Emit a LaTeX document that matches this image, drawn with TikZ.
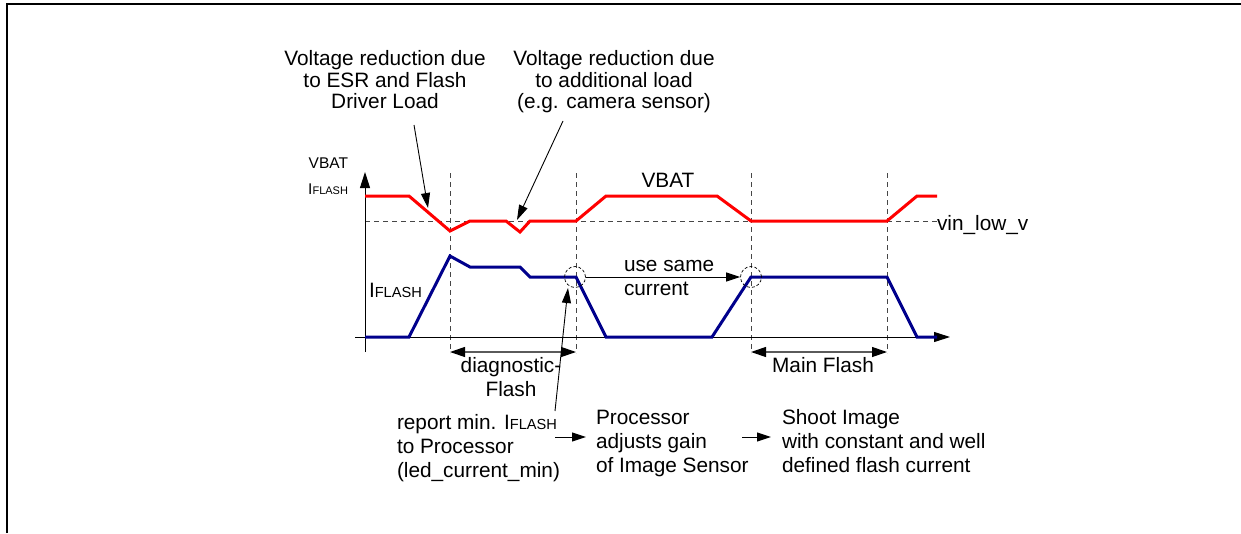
\documentclass[tikz,border=0pt]{standalone}
\usepackage{fontspec}
\setmainfont{Liberation Sans}
\usetikzlibrary{arrows.meta}
\definecolor{vred}{RGB}{255,0,0}
\definecolor{vblue}{RGB}{0,0,140}
\definecolor{guidegray}{RGB}{70,70,70}
\definecolor{dimgray}{RGB}{90,90,90}
\newcommand{\IFL}{I{\fontsize{14.6}{14.6}\selectfont FLASH}}
\newcommand{\IFLsmall}{I{\fontsize{11}{11}\selectfont FLASH}}
\begin{document}
\begin{tikzpicture}[x=1pt,y=-1pt,
 txt/.style={inner sep=0pt, outer sep=0pt, font=\fontsize{20.8}{24}\selectfont},
 smalltxt/.style={inner sep=0pt, outer sep=0pt, font=\fontsize{15.5}{18}\selectfont},
 vbatline/.style={draw=vred, line width=3pt, line join=miter},
 iline/.style={draw=vblue, line width=3pt, line join=miter},
 guide/.style={draw=guidegray, line width=0.9pt, dash pattern=on 5pt off 4pt},
 axisline/.style={draw=black, line width=1pt, -{Triangle[length=16pt,width=10pt]}},
 leader/.style={draw=black, line width=0.9pt, -{Triangle[length=15pt,width=9pt]}},
 dimline/.style={draw=dimgray, line width=1.2pt, {Triangle[length=15pt,width=10pt,black]}-{Triangle[length=15pt,width=10pt,black]}},
 flow/.style={draw=black, line width=1pt, -{Triangle[length=14pt,width=9pt]}},
 ringmark/.style={draw=black, line width=0.7pt, dash pattern=on 3pt off 2pt, circle, minimum size=21pt, inner sep=0pt},
]
\useasboundingbox (0,0) rectangle (1241,533);
\fill[white] (0,0) rectangle (1241,533);
\draw[line width=2pt, line join=miter] (6.7,533) -- (6.7,3.8) -- (1241,3.8);

% guides
\draw[guide] (365,221) -- (937,221);
\foreach \gx in {450,576,751,887} {\draw[guide] (\gx,173) -- (\gx,353);}

% axes
\coordinate (xs) at (355,337);
\coordinate (xe) at (950,337);
\coordinate (ys) at (365,352);
\coordinate (ye) at (365,172);
\draw[axisline] (xs) -- (xe);
\draw[axisline] (ys) -- (ye);

% signals
\draw[vbatline] (365,196) -- (409,196) -- (450,231) -- (470,221) -- (506,221) -- (520,232) -- (530,221) -- (576,221) -- (606,196) -- (717,196) -- (751,221) -- (887,221) -- (917,196) -- (937,196);
\draw[iline] (365,337) -- (409,337) -- (450,256) -- (470,267) -- (520,267) -- (530,277) -- (576,277) -- (606,337) -- (712,337) -- (751,277) -- (887,277) -- (917,337) -- (937,337);

% axis labels
\node[smalltxt, anchor=base east] (lv) at (348,168) {VBAT};
\node[smalltxt, anchor=base east] (li) at (348,194.5) {\IFLsmall};
\node[txt, anchor=base west] (lic) at (369,297) {\IFL};
\node[txt, anchor=base] (lvb) at (668,187) {VBAT};
\node[txt, anchor=base west] (lvl) at (937,230) {vin\_low\_v};

% top annotations
\node[txt, anchor=base] (a1) at (385,65) {Voltage reduction due};
\node[txt, anchor=base] (a2) at (385,87) {to ESR and Flash};
\node[txt, anchor=base] (a3) at (385,108.5) {Driver Load};
\node[txt, anchor=base] (b1) at (614,65) {Voltage reduction due};
\node[txt, anchor=base] (b2) at (614,87) {to additional load};
\node[txt, anchor=base] (b3) at (614,108.5) {(e.g. camera sensor)};
\coordinate (a3s) at (414,125);
\coordinate (a3e) at (428,208);
\coordinate (b3s) at (563,121);
\coordinate (b3e) at (517,220);
\draw[leader] (a3s) -- (a3e);
\draw[leader] (b3s) -- (b3e);

% circles and same-current arrow
\node[ringmark] (c1) at (575,277) {};
\node[ringmark] (c2) at (751,277) {};
\draw[flow] (c1) -- (c2);
\node[txt, anchor=base west] (u1) at (624,271.5) {use same};
\node[txt, anchor=base west] (u2) at (624,295) {current};

% dimension arrows
\coordinate (d1a) at (450,352);
\coordinate (d1b) at (576,352);
\coordinate (d2a) at (751,352);
\coordinate (d2b) at (887,352);
\draw[dimline] (d1a) -- (d1b);
\draw[dimline] (d2a) -- (d2b);
\node[txt, anchor=base] (dg1) at (511,372.5) {diagnostic-};
\node[txt, anchor=base] (dg2) at (511,396.5) {Flash};
\node[txt, anchor=base] (mf) at (823,372.5) {Main Flash};

% bottom process
\node[txt, anchor=base west] (r1) at (397,429) {report min. \IFL};
\node[txt, anchor=base west] (r2) at (397,453) {to Processor};
\node[txt, anchor=base west] (r3) at (397,477) {(led\_current\_min)};
\node[txt, anchor=base west] (p1) at (596,424) {Processor};
\node[txt, anchor=base west] (p2) at (596,448) {adjusts gain};
\node[txt, anchor=base west] (p3) at (596,472.5) {of Image Sensor};
\node[txt, anchor=base west] (s1) at (782,424) {Shoot Image};
\node[txt, anchor=base west] (s2) at (782,448) {with constant and well};
\node[txt, anchor=base west] (s3) at (782,472.5) {defined flash current};
\coordinate (rls) at (555,411);
\coordinate (rle) at (568,288);
\draw[leader] (rls) -- (rle);
\coordinate (f1s) at (555,437);
\coordinate (f1e) at (586,437);
\coordinate (f2s) at (742,437);
\coordinate (f2e) at (771,437);
\draw[flow] (f1s) -- (f1e);
\draw[flow] (f2s) -- (f2e);
\end{tikzpicture}
\end{document}
